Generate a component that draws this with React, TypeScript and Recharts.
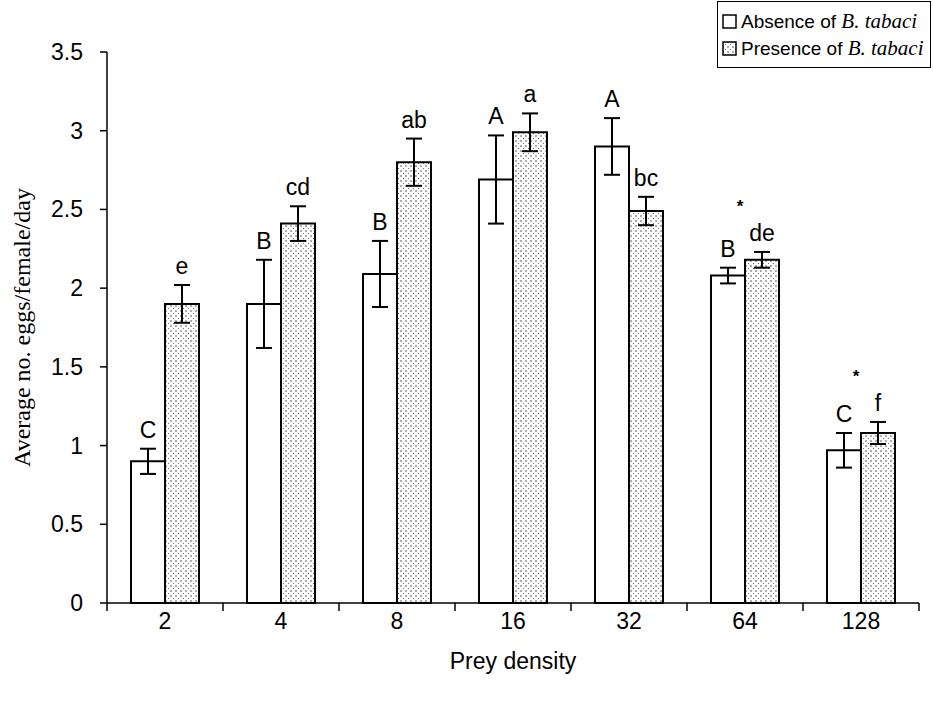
import React from 'react';
import { BarChart, Bar, XAxis, YAxis, ErrorBar, LabelList } from 'recharts';

const categories = ['2', '4', '8', '16', '32', '64', '128'];
const absence = [0.9, 1.9, 2.09, 2.69, 2.9, 2.08, 0.97];
const absenceErr = [0.08, 0.28, 0.21, 0.28, 0.18, 0.05, 0.11];
const presence = [1.9, 2.41, 2.8, 2.99, 2.49, 2.18, 1.08];
const presenceErr = [0.12, 0.11, 0.15, 0.12, 0.09, 0.05, 0.07];
const absenceLetters = ['C', 'B', 'B', 'A', 'A', 'B', 'C'];
const presenceLetters = ['e', 'cd', 'ab', 'a', 'bc', 'de', 'f'];
const significance = ['', '', '', '', '', '*', '*'];
const yTicks = [0, 0.5, 1, 1.5, 2, 2.5, 3, 3.5];

const data = categories.map((c, i) => ({
  cat: c,
  absence: absence[i],
  absenceErr: absenceErr[i],
  presence: presence[i],
  presenceErr: presenceErr[i],
  aLetter: absenceLetters[i],
  pLetter: presenceLetters[i],
  sig: significance[i],
}));

const SANS = '"Liberation Sans", Arial, Helvetica, sans-serif';
const SERIF = '"Liberation Serif", "Times New Roman", serif';

const makeLetterLabel = (vals: number[], errs: number[]) => (props: any) => {
  const { x, y, width, height, index, value } = props;
  const v = vals[index];
  const ppu = v ? Number(height) / v : 0;
  const top = Number(y) - errs[index] * ppu;
  return (
    <text x={Number(x) + Number(width) / 2} y={top - 11} textAnchor="middle" fontSize={23} fontFamily={SANS} fill="#000">
      {value}
    </text>
  );
};

const SigLabel = (props: any) => {
  const { x, y, width, height, index, value } = props;
  if (!value) return null;
  const v = absence[index];
  const ppu = v ? Number(height) / v : 0;
  const base = Number(y) + Number(height);
  const maxTop = Math.max(absence[index] + absenceErr[index], presence[index] + presenceErr[index]);
  const cy = base - maxTop * ppu - 50;
  return (
    <text x={Number(x) + Number(width) - 5} y={cy + 10} textAnchor="middle" fontSize={17} fontWeight="bold" fontFamily={SANS} fill="#000">
      {value}
    </text>
  );
};

const XTick = (props: any) => {
  const { x, y, payload, index } = props;
  const half = payload && payload.offset ? payload.offset : 58;
  return (
    <g>
      <text x={x} y={y + 26} textAnchor="middle" fontSize={23} fontFamily={SANS} fill="#000">
        {payload.value}
      </text>
      <line x1={x + half} x2={x + half} y1={y} y2={y + 8} stroke="#000" strokeWidth={1.5} />
      {index === 0 && <line x1={x - half} x2={x - half} y1={y} y2={y + 8} stroke="#000" strokeWidth={1.5} />}
    </g>
  );
};

const YTick = (props: any) => {
  const { x, y, payload } = props;
  return (
    <text x={x} y={y} dy={8} textAnchor="end" fontSize={23} fontFamily={SANS} fill="#000">
      {payload.value}
    </text>
  );
};

const YLabel = (props: any) => {
  const vb = props.viewBox || { x: 10, y: 52, width: 97, height: 551 };
  const cx = vb.x + 12;
  const cy = vb.y + vb.height / 2;
  return (
    <text x={cx} y={cy} transform={`rotate(-90, ${cx}, ${cy})`} textAnchor="middle" dominantBaseline="central" fontSize={24} fontFamily={SERIF} fill="#000">
      Average no. eggs/female/day
    </text>
  );
};

const XLabel = (props: any) => {
  const vb = props.viewBox || { x: 107, y: 603, width: 812, height: 70 };
  return (
    <text x={vb.x + vb.width / 2} y={vb.y + 66} textAnchor="middle" fontSize={23} fontFamily={SANS} fill="#000">
      Prey density
    </text>
  );
};

const Marker = ({ stipple }: { stipple: boolean }) => (
  <svg width={15} height={15} style={{ display: 'block' }}>
    <rect x={1} y={1} width={13} height={13} fill={stipple ? 'url(#stipple)' : '#fff'} stroke="#000" strokeWidth={1.5} />
  </svg>
);

const LegendRow = ({ stipple, word }: { stipple: boolean; word: string }) => (
  <div style={{ display: 'flex', alignItems: 'center', height: 27 }}>
    <Marker stipple={stipple} />
    <span style={{ marginLeft: 4, fontFamily: SANS, fontSize: 19, color: '#000', whiteSpace: 'nowrap' }}>
      {word} of <span style={{ fontFamily: SERIF, fontStyle: 'italic', fontSize: 21 }}>B. tabaci</span>
    </span>
  </div>
);

export default function App() {
  return (
    <div style={{ position: 'absolute', left: 0, top: 0, width: 933, height: 703, background: '#fff' }}>
      <svg width={0} height={0} style={{ position: 'absolute' }}>
        <defs>
          <pattern id="stipple" width="5" height="5" patternUnits="userSpaceOnUse">
            <rect width="5" height="5" fill="#fff" />
            <circle cx="1" cy="1" r="0.7" fill="#222" />
            <circle cx="3.5" cy="3.5" r="0.55" fill="#555" />
          </pattern>
        </defs>
      </svg>
      <BarChart width={933} height={703} data={data} margin={{ top: 52, right: 14, left: 10, bottom: 30 }} barGap={0} barSize={34}>
        <XAxis
          dataKey="cat"
          interval={0}
          height={70}
          tickSize={0}
          tickMargin={0}
          tickLine={false}
          axisLine={{ stroke: '#000', strokeWidth: 1.5 }}
          tick={<XTick />}
          label={<XLabel />}
        />
        <YAxis
          domain={[0, 3.5]}
          ticks={yTicks}
          interval={0}
          width={97}
          tickSize={7}
          tickMargin={17}
          axisLine={{ stroke: '#000', strokeWidth: 1.5 }}
          tickLine={{ stroke: '#000', strokeWidth: 1.5 }}
          tick={<YTick />}
          label={<YLabel />}
        />
        <Bar dataKey="absence" fill="#fff" stroke="#000" strokeWidth={2} isAnimationActive={false}>
          <ErrorBar dataKey="absenceErr" width={8} stroke="#000" strokeWidth={2} direction="y" />
          <LabelList dataKey="aLetter" content={makeLetterLabel(absence, absenceErr)} />
          <LabelList dataKey="sig" content={SigLabel} />
        </Bar>
        <Bar dataKey="presence" fill="url(#stipple)" stroke="#000" strokeWidth={2} isAnimationActive={false}>
          <ErrorBar dataKey="presenceErr" width={8} stroke="#000" strokeWidth={2} direction="y" />
          <LabelList dataKey="pLetter" content={makeLetterLabel(presence, presenceErr)} />
        </Bar>
      </BarChart>
      <div
        style={{
          position: 'absolute',
          left: 717,
          top: 1,
          width: 214,
          height: 67,
          border: '1.5px solid #000',
          background: '#fff',
          boxSizing: 'border-box',
          padding: '6px 0 0 4px',
        }}
      >
        <LegendRow stipple={false} word="Absence" />
        <LegendRow stipple={true} word="Presence" />
      </div>
    </div>
  );
}
